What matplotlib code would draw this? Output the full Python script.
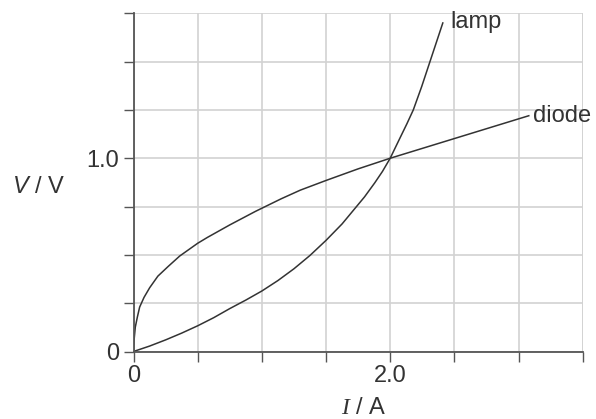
"""
V-I characteristics of a filament lamp and a diode
"""

import numpy as np
import matplotlib
matplotlib.use("Agg")
import matplotlib.pyplot as plt

# values (I in A, V in V)
diode_I = [0.0, 0.001, 0.004, 0.014, 0.03, 0.048, 0.082, 0.126, 0.19, 0.27, 0.36, 0.5,
           0.575, 0.75, 0.95, 1.15, 1.3, 1.5, 1.75, 2.0, 3.08]
diode_V = [0.0, 0.03, 0.056, 0.126, 0.178, 0.23, 0.28, 0.33, 0.39, 0.44, 0.494, 0.56,
           0.59, 0.655, 0.725, 0.79, 0.835, 0.885, 0.945, 1.0, 1.22]

lamp_I = [0.0, 0.125, 0.25, 0.375, 0.5, 0.625, 0.75, 0.875, 1.0, 1.125, 1.25, 1.375, 1.5,
          1.625, 1.725, 1.8, 1.88, 1.94, 2.0, 2.075, 2.13, 2.18, 2.245, 2.31, 2.36, 2.41]
lamp_V = [0.0, 0.028, 0.06, 0.095, 0.133, 0.175, 0.222, 0.266, 0.313, 0.367, 0.428, 0.497, 0.575,
          0.66, 0.74, 0.80, 0.873, 0.932, 1.0, 1.103, 1.178, 1.25, 1.37, 1.50, 1.60, 1.70]

x_ticks = [0, 0.5, 1.0, 1.5, 2.0, 2.5, 3.0, 3.5]
x_labels = ["0", "", "", "", "2.0", "", "", ""]
y_ticks = [0, 0.25, 0.5, 0.75, 1.0, 1.25, 1.5, 1.75]
y_labels = ["0", "", "", "", "1.0", "", "", ""]

##################################################

plt.rcParams["font.family"] = ["Liberation Sans", "DejaVu Sans"]
plt.rcParams["mathtext.fontset"] = "custom"
plt.rcParams["mathtext.it"] = "Liberation Serif:italic"
plt.rcParams["mathtext.sf"] = "Liberation Sans:italic"
plt.rcParams["mathtext.rm"] = "Liberation Sans"

txt = "#333333"
axc = "#555555"
fs = 17

fig = plt.figure(figsize=(5.96, 4.19), dpi=100)
ax = fig.add_axes([133.5 / 596, 67.5 / 419, (582.7 - 133.5) / 596, (351.5 - 13.3) / 419])

ax.plot(diode_I, diode_V, color="#333333", lw=1.1, solid_joinstyle="round")
ax.plot(lamp_I, lamp_V, color="#333333", lw=1.1, solid_joinstyle="round")

ax.set_xlim(0, 3.5)
ax.set_ylim(0, 1.75)
ax.set_xticks(x_ticks)
ax.set_xticklabels(x_labels)
ax.set_yticks(y_ticks)
ax.set_yticklabels(y_labels)
ax.grid(True, color="#d2d2d2", lw=1.2)
ax.set_axisbelow(True)

for s in ["top", "right"]:
    ax.spines[s].set_visible(False)
for s in ["left", "bottom"]:
    ax.spines[s].set_color(axc)
    ax.spines[s].set_linewidth(1.3)
    ax.spines[s].set_zorder(3)

ax.tick_params(direction="out", length=7.5, width=1.0, color=axc,
               labelsize=fs, labelcolor=txt)
ax.tick_params(axis="x", pad=2)
ax.tick_params(axis="y", pad=3)

# right-hand grid edge at 3.5 A
ax.axvline(3.5, color="#d2d2d2", lw=1.2, zorder=0.5)

ax.text(3.11, 1.22, "diode", fontsize=fs, color=txt, va="center", ha="left")
ax.text(2.47, 1.705, "lamp", fontsize=fs, color=txt, va="center", ha="left", clip_on=False)

ax.text(-0.95, 0.85, r"$\mathsf{V}$ / V", fontsize=fs, color=txt, va="center", ha="left")
ax.text(1.79, -0.29, r"$I$ / A", fontsize=fs, color=txt, va="center", ha="center")

fig.savefig("out.png", dpi=100)
